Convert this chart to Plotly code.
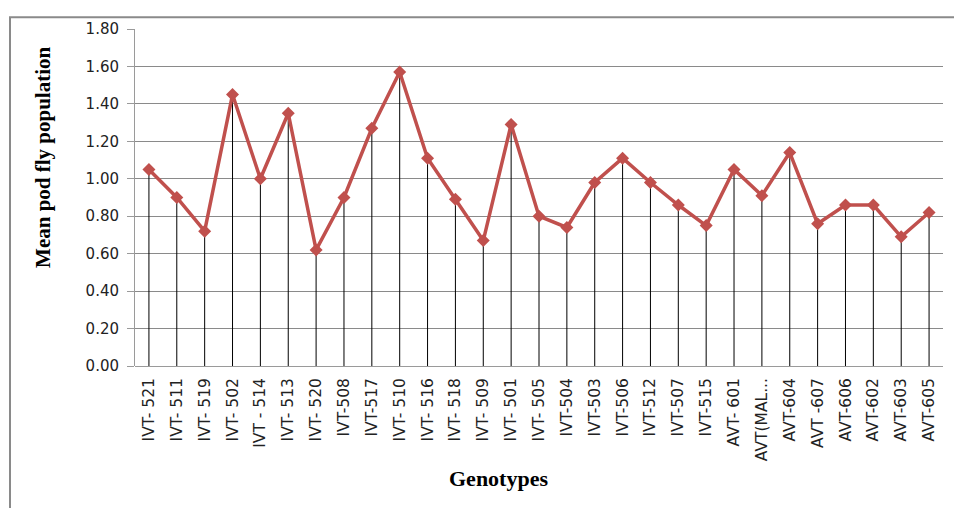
import plotly.graph_objects as go

genotypes = ["IVT- 521", "IVT- 511", "IVT- 519", "IVT- 502", "IVT - 514", "IVT- 513",
             "IVT- 520", "IVT-508", "IVT-517", "IVT- 510", "IVT- 516", "IVT- 518",
             "IVT- 509", "IVT- 501", "IVT- 505", "IVT-504", "IVT-503", "IVT-506",
             "IVT-512", "IVT-507", "IVT-515", "AVT- 601", "AVT(MAL...", "AVT-604",
             "AVT -607", "AVT-606", "AVT-602", "AVT-603", "AVT-605"]
mean_pod_fly = [1.05, 0.90, 0.72, 1.45, 1.00, 1.35, 0.62, 0.90, 1.27, 1.57, 1.11, 0.89,
                0.67, 1.29, 0.80, 0.74, 0.98, 1.11, 0.98, 0.86, 0.75, 1.05, 0.91, 1.14,
                0.76, 0.86, 0.86, 0.69, 0.82]
y_ticks = [0.0, 0.2, 0.4, 0.6, 0.8, 1.0, 1.2, 1.4, 1.6, 1.8]

# page body has an 8px margin; figure origin is at (8, 8) in the window
OFF = 8
L, R, T, B = 135 - OFF, 19, 21 - OFF, 142
W, H = 962 - OFF, 508 - OFF
PW, PH = W - L - R, H - T - B


def px_x(x):
    return (x - OFF - L) / PW


def px_y(y):
    return (H - B - (y - OFF)) / PH


fig = go.Figure()
fig.add_trace(go.Scatter(
    x=genotypes, y=mean_pod_fly, mode="lines+markers",
    line=dict(color="#C0504D", width=3.5),
    marker=dict(symbol="diamond", size=10, color="#C0504D"),
    error_y=dict(type="data", symmetric=False, array=[0] * len(mean_pod_fly),
                 arrayminus=mean_pod_fly, color="#000000", thickness=1, width=0),
    showlegend=False,
))

fig.update_layout(
    width=W, height=H,
    margin=dict(l=L, r=R, t=T, b=B),
    paper_bgcolor="white", plot_bgcolor="white",
    font=dict(family="DejaVu Sans", size=15, color="#222"),
    xaxis=dict(
        type="category", range=[-0.5, len(genotypes) - 0.5],
        tickangle=-90, showgrid=False, showline=False, ticks="",
        zeroline=False, tickfont=dict(size=15.5, family="DejaVu Sans", color="#222"),
        ticklabelstandoff=8,
    ),
    yaxis=dict(
        range=[0, 1.8], tickvals=y_ticks, ticktext=[f"{v:.2f}" for v in y_ticks],
        showgrid=True, gridcolor="#8a8a8a", gridwidth=1,
        showline=True, linecolor="#9a9a9a", linewidth=1,
        ticks="outside", ticklen=7, tickcolor="#9a9a9a",
        zeroline=True, zerolinecolor="#9a9a9a", zerolinewidth=1,
        tickfont=dict(size=15, family="DejaVu Sans", color="#222"),
        ticklabelstandoff=5,
    ),
    annotations=[
        dict(text="<b>Mean pod fly population</b>", textangle=-90,
             xref="paper", yref="paper", x=px_x(43), y=px_y(153),
             xanchor="center", yanchor="middle",
             showarrow=False, font=dict(family="Liberation Serif", size=21, color="#000")),
        dict(text="<b>Genotypes</b>",
             xref="paper", yref="paper", x=px_x(498), y=px_y(481),
             xanchor="center", yanchor="middle",
             showarrow=False, font=dict(family="Liberation Serif", size=22, color="#000")),
    ],
    shapes=[dict(type="rect", xref="paper", yref="paper",
                 x0=px_x(10), x1=1.2, y0=-1.0, y1=px_y(9),
                 line=dict(color="#8a8a8a", width=2), layer="below")],
)

fig.write_html("out.html")
